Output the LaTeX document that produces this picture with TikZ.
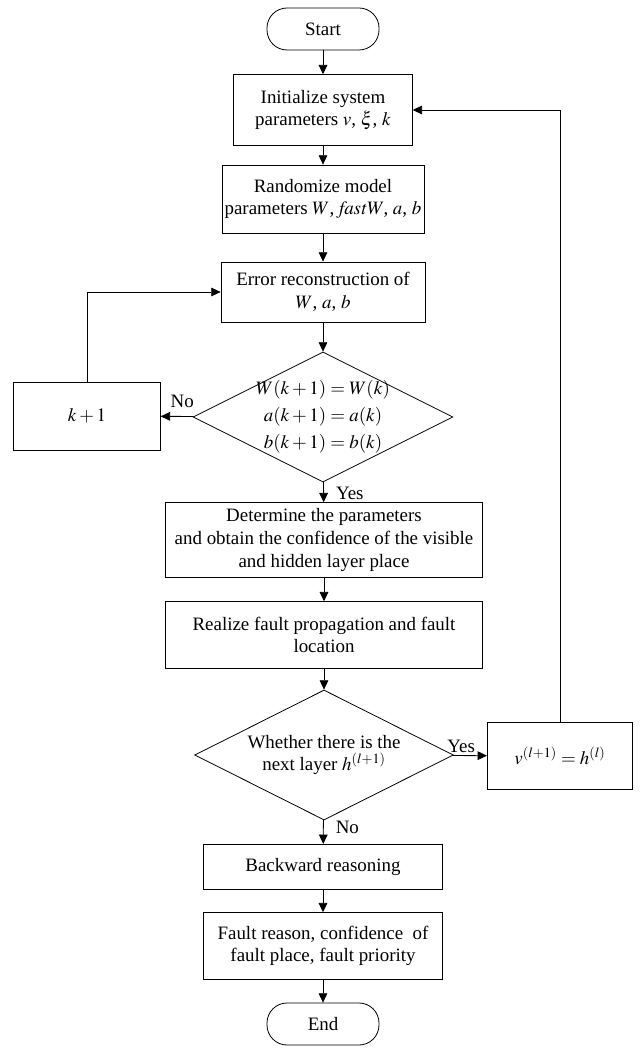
\documentclass[tikz,border=0pt]{standalone}
\usepackage{mathptmx}
\usepackage{fontspec}
\setmainfont{Liberation Serif}
\usetikzlibrary{shapes.geometric,arrows.meta}

\begin{document}
\begin{tikzpicture}
    [x=0.75pt,y=-0.75pt,line width=0.6pt,>={Triangle[length=7pt,width=6.5pt]},
     font=\fontsize{14.2}{16.9}\selectfont,
     box/.style={draw,align=center,inner sep=2pt},
     term/.style={draw,rounded corners=15pt,minimum width=84pt,minimum height=31.5pt},
     decision/.style={draw,diamond,aspect=2,inner sep=0pt,
       minimum width=195pt,minimum height=97.5pt},
     tag/.style={inner sep=2pt}]
\useasboundingbox (0,0) rectangle (639,1048);
\path
    (323,29) node [term] (start) {Start}
    (323,110) node [box,minimum width=134pt,minimum height=53pt] (init)
        {Initialize system\\parameters $v$, $\xi$, $k$}
    (323,199) node [box,minimum width=134pt,minimum height=51pt] (rand)
        {Randomize model\\parameters $W$, $\mathit{fastW}$, $a$, $b$}
    (323,292) node [box,minimum width=153pt,minimum height=45pt] (err)
        {Error reconstruction of\\$W$, $a$, $b$}
    (323,417) node [decision,
        label={[align=center]center:$W(k+1)=W(k)$\\[3.5pt]$a(k+1)=a(k)$\\[3.5pt]$b(k+1)=b(k)$}]
        (cond) {}
    (87,416) node [box,minimum width=110pt,minimum height=51pt] (kinc) {$k+1$}
    (324,540) node [box,minimum width=238pt,minimum height=56pt] (det)
        {Determine the parameters\\and obtain the confidence of the visible\\and hidden layer place}
    (324,635) node [box,minimum width=238pt,minimum height=50pt] (real)
        {Realize fault propagation and fault\\location}
    (324,755) node [decision,minimum width=194pt,
        label={[align=center]center:Whether there is the\\next layer $h^{(l+1)}$}]
        (layer) {}
    (560,756) node [box,minimum width=109pt,minimum height=50pt] (vnext)
        {$v^{(l+1)}=h^{(l)}$}
    (323,867) node [box,minimum width=179pt,minimum height=34pt] (back)
        {Backward reasoning}
    (323,946) node [box,minimum width=179pt,minimum height=50pt] (fault)
        {Fault reason, confidence\ \ of\\fault place, fault priority}
    (323,1024) node [term] (end) {End};
\draw [->] (start) -- (init);
\draw [->] (init) -- (rand);
\draw [->] (rand) -- (err);
\draw [->] (err) -- (cond);
\draw [->] (cond) -- node [tag,above,pos=0.35,yshift=4pt] {No} (kinc);
\draw [->] (kinc.north) |- (err.west);
\draw [->] (cond) -- node [tag,right,pos=0.55,xshift=7pt] {Yes} (det);
\draw [->] (det) -- (real);
\draw [->] (real) -- (layer);
\draw [->] (layer) -- node [tag,above,pos=0.25] {Yes} (vnext);
\draw [->] (vnext.north) |- (init.east);
\draw [->] (layer) -- node [tag,right,pos=0.3,xshift=7pt] {No} (back);
\draw [->] (back) -- (fault);
\draw [->] (fault) -- (end);
\end{tikzpicture}
\end{document}
